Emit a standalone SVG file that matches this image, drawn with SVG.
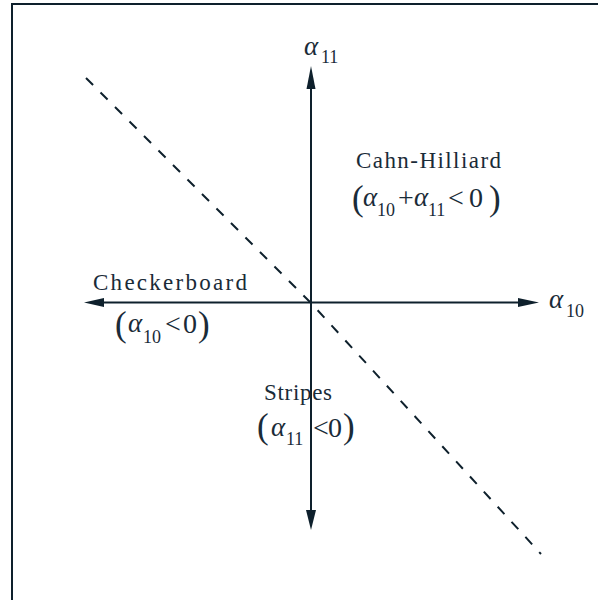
<svg xmlns="http://www.w3.org/2000/svg" width="598" height="600" viewBox="0 0 598 600">
<style>
.lbl{font-family:"Liberation Serif","Times New Roman",serif;font-size:23px;fill:#1a2b38}
.al{font-family:"Liberation Serif","Times New Roman",serif;font-style:italic;font-size:27px;fill:#1a2b38}
.sub{font-family:"Liberation Serif","Times New Roman",serif;font-size:18px;fill:#1a2b38}
.op{font-family:"Liberation Serif","Times New Roman",serif;font-size:28px;fill:#1a2b38}
.par{font-family:"Liberation Serif","Times New Roman",serif;font-size:35px;fill:#1a2b38}
.ax{stroke:#0e202c;stroke-width:2;fill:none}
.ah{fill:#0e202c}
</style>
<rect x="12" y="4" width="600" height="600" fill="#ffffff" stroke="#0e202c" stroke-width="2"/>
<g id="connectors">
<line class="ax" x1="311" y1="80" x2="311" y2="515"/>
<polygon class="ah" points="311,66 306.5,89 315.5,89"/>
<polygon class="ah" points="311,530 306,510 316,510"/>
<line class="ax" x1="98" y1="302.5" x2="525" y2="302.5"/>
<polygon class="ah" points="539,302.5 518,298 518,307"/>
<polygon class="ah" points="84,302.5 104,298 104,307"/>
<polyline points="86,78 311,303 541,554" fill="none" stroke="#0e202c" stroke-width="2" stroke-dasharray="10,10.5"/>
</g>
<g id="axis-a11">
<text class="al" x="304" y="55">α</text><text class="sub" x="321" y="63">11</text>
</g>
<g id="axis-a10">
<text class="al" x="549" y="308">α</text><text class="sub" x="566" y="317">10</text>
</g>
<g id="cahn-hilliard">
<text class="lbl" x="356" y="168" textLength="145" lengthAdjust="spacing">Cahn-Hilliard</text>
<text class="par" x="352" y="210">(</text>
<text class="al" x="363" y="206">α</text><text class="sub" x="377" y="216">10</text>
<text class="op" x="398" y="207">+</text>
<text class="al" x="414" y="206">α</text><text class="sub" x="428" y="216">11</text>
<text class="op" x="448" y="207">&lt;</text>
<text class="op" x="469" y="207">0</text>
<text class="par" x="489" y="210">)</text>
</g>
<g id="checkerboard">
<text class="lbl" x="93" y="290" textLength="154" lengthAdjust="spacing">Checkerboard</text>
<text class="par" x="115" y="335.5">(</text>
<text class="al" x="128" y="332">α</text><text class="sub" x="143" y="343">10</text>
<text class="op" x="165" y="333">&lt;</text>
<text class="op" x="183" y="333">0</text>
<text class="par" x="198" y="335.5">)</text>
</g>
<g id="stripes">
<text class="lbl" x="264" y="400" textLength="68" lengthAdjust="spacing">Stripes</text>
<text class="par" x="257" y="437.5">(</text>
<text class="al" x="271" y="436">α</text><text class="sub" x="286" y="445">11</text>
<text class="op" x="313" y="437">&lt;</text>
<text class="op" x="328" y="437">0</text>
<text class="par" x="343" y="437.5">)</text>
</g>
</svg>
